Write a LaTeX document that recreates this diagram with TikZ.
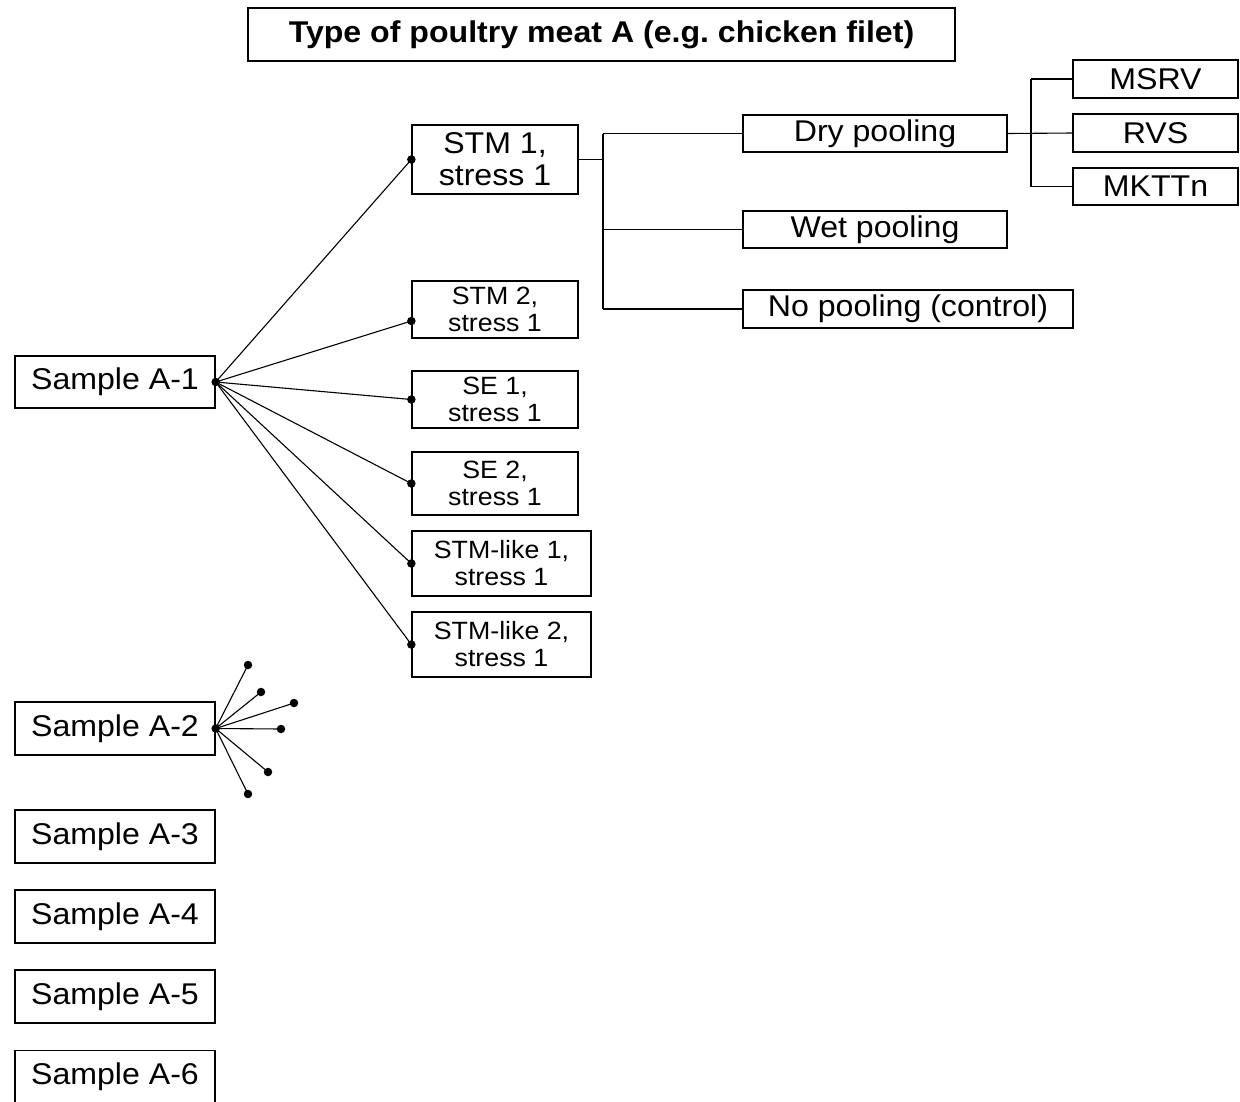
\documentclass[tikz,border=0pt]{standalone}
\usepackage{fontspec}
\setmainfont[FakeStretch=1.07]{Liberation Sans}
\frenchspacing
\begin{document}
\begin{tikzpicture}[x=1pt,y=-1pt,
  box/.style={draw, line width=1.3pt, inner sep=0pt, align=center, font=\fontsize{30}{32}\selectfont},
  sbox/.style={box, font=\fontsize{25}{27}\selectfont},
  dot/.style={circle, fill, inner sep=0pt, minimum size=8.5pt},
  conn/.style={line width=1.1pt}]
\useasboundingbox (0,0) rectangle (1240,1101);
% title
\node[box, minimum width=707, minimum height=53, font=\bfseries\fontsize{30}{32}\selectfont] (title) at (601.5,34.5) {Type of poultry meat A (e.g.\ chicken filet)};
% samples
\node[box, minimum width=200, minimum height=52] (s1) at (115,382) {Sample A-1};
\node[box, minimum width=200, minimum height=53] (s2) at (115,728.5) {Sample A-2};
\node[box, minimum width=200, minimum height=53] (s3) at (115,836.5) {Sample A-3};
\node[box, minimum width=200, minimum height=53] (s4) at (115,916.5) {Sample A-4};
\node[box, minimum width=200, minimum height=53] (s5) at (115,996.5) {Sample A-5};
\node[box, minimum width=200, minimum height=53] (s6) at (115,1077) {Sample A-6};
% strains
\node[box, minimum width=166, minimum height=69] (stm1) at (495,159.5) {STM 1,\\stress 1};
\node[sbox, minimum width=166, minimum height=57] (stm2) at (495,309.5) {STM 2,\\stress 1};
\node[sbox, minimum width=166, minimum height=57] (se1) at (495,399.5) {SE 1,\\stress 1};
\node[sbox, minimum width=166, minimum height=63] (se2) at (495,483.5) {SE 2,\\stress 1};
\node[sbox, minimum width=179, minimum height=65] (sl1) at (501.5,563.5) {STM-like 1,\\stress 1};
\node[sbox, minimum width=179, minimum height=65] (sl2) at (501.5,644.5) {STM-like 2,\\stress 1};
% pooling
\node[box, minimum width=264, minimum height=37] (dry) at (875,133.5) {Dry pooling};
\node[box, minimum width=264, minimum height=37] (wet) at (875,229.5) {Wet pooling};
\node[box, minimum width=330, minimum height=38] (nop) at (908,309) {No pooling (control)};
% media
\node[box, minimum width=165, minimum height=38] (msrv) at (1155.5,79) {MSRV};
\node[box, minimum width=165, minimum height=38] (rvs) at (1155.5,133) {RVS};
\node[box, minimum width=165, minimum height=37] (mkt) at (1155.5,186.5) {MKTTn};
% tree connectors
\coordinate (j1) at (603,159.5);
\draw[conn] (stm1.east) -- (j1);
\draw[conn] (j1 |- dry.west) -- (j1 |- nop.west);
\draw[conn] (j1 |- dry.west) -- (dry.west);
\draw[conn] (j1 |- wet.west) -- (wet.west);
\draw[conn] (j1 |- nop.west) -- (nop.west);
\coordinate (j2) at (1031,133.5);
\draw[conn] (dry.east) -- (rvs.west);
\draw[conn] (j2 |- msrv.west) -- (j2 |- mkt.west);
\draw[conn] (j2 |- msrv.west) -- (msrv.west);
\draw[conn] (j2 |- mkt.west) -- (mkt.west);
% fan from Sample A-1
\node[dot] (f0) at (s1.east) {};
\node[dot] (f1) at (stm1.west) {};
\node[dot] (f2) at ([yshift=-11.5pt]stm2.west) {};
\node[dot] (f3) at (se1.west) {};
\node[dot] (f4) at (se2.west) {};
\node[dot] (f5) at (sl1.west) {};
\node[dot] (f6) at (sl2.west) {};
\foreach \t in {f1,f2,f3,f4,f5,f6} \draw[conn] (f0.center) -- (\t.center);
% fan from Sample A-2
\node[dot] (g0) at (s2.east) {};
\node[dot] (g1) at (248,665) {};
\node[dot] (g2) at (261,692) {};
\node[dot] (g3) at (294,703) {};
\node[dot] (g4) at (281,729) {};
\node[dot] (g5) at (268,772) {};
\node[dot] (g6) at (248,794) {};
\foreach \t in {g1,g2,g3,g4,g5,g6} \draw[conn] (g0.center) -- (\t.center);
\end{tikzpicture}
\end{document}
